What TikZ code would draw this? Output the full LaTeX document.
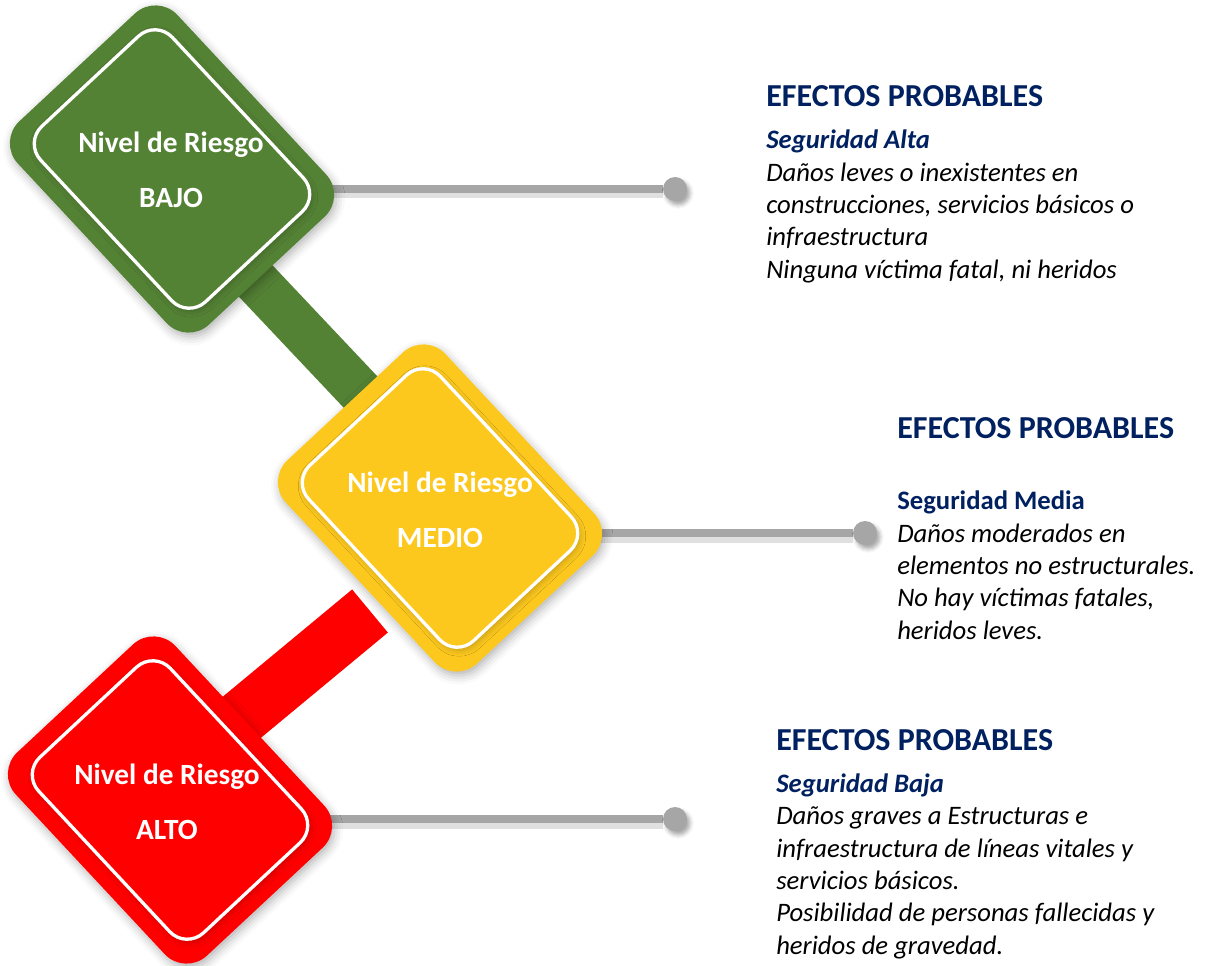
\documentclass[tikz,border=0pt]{standalone}
\usepackage{fontspec}
\setmainfont{Carlito}
\usetikzlibrary{shadows.blur,backgrounds}

\definecolor{verde}{RGB}{84,130,53}
\definecolor{amarillo}{RGB}{252,200,30}
\definecolor{rojo}{RGB}{255,0,0}
\definecolor{azul}{RGB}{0,32,96}
\definecolor{gris}{RGB}{166,166,166}

\newdimen\pxu
\pxu=0.75pt

\tikzset{
  caja/.style={rectangle, rounded corners=30\pxu, minimum width=278\pxu,
    minimum height=218\pxu, rotate=-47, fill=#1, inner sep=0pt,
    blur shadow={shadow xshift=2\pxu, shadow yshift=-4\pxu,
      shadow blur radius=9\pxu, shadow opacity=30}},
  marco/.style={rectangle, rounded corners=24\pxu, minimum width=240\pxu,
    minimum height=180\pxu, rotate=-47, fill=#1, draw=white,
    line width=3.3\pxu, inner sep=0pt,
    blur shadow={shadow xshift=2\pxu, shadow yshift=-3\pxu,
      shadow blur radius=6\pxu, shadow opacity=22}},
  etiqueta/.style={align=center, text=white, inner sep=0pt, anchor=base,
    font=\fontsize{22}{41.25}\selectfont\bfseries},
  barra/.style={draw=#1, line cap=butt},
  conn/.style={draw=gris, line width=8.5\pxu,
    preaction={draw=black, opacity=0.12, line width=11\pxu,
      transform canvas={yshift=-4\pxu}}},
  punto/.style={circle, fill=gris, minimum size=24\pxu, inner sep=0pt,
    blur shadow={shadow xshift=3\pxu, shadow yshift=-4\pxu,
      shadow blur radius=4\pxu, shadow opacity=35}},
  titulo/.style={anchor=base west, inner sep=0pt, text=azul,
    font=\fontsize{24}{28}\selectfont\bfseries},
  texto/.style={anchor=base west, inner sep=0pt, align=left,
    font=\fontsize{20}{24.2}\selectfont\itshape},
}

\begin{document}
\begin{tikzpicture}[x=0.75pt, y=-0.75pt]

  \useasboundingbox (0,0) rectangle (1205,966);

  % the three risk boxes
  \foreach \nm/\cx/\cy/\col/\lvl/\tx in {bajo/172/169/verde/BAJO/171,
      medio/440/508/amarillo/MEDIO/440, alto/170/800/rojo/ALTO/167}
  {
       \node[caja=\col] (\nm) at (\cx,\cy) {};
       \node[marco=\col] (\nm-in) at (\nm.center) {};
       \node[etiqueta] (\nm-txt) at ({\tx},{\cy+39}) {Nivel de Riesgo\\\lvl};
  }

  % end dots
  \node[punto] (d1) at (675,189) {};
  \node[punto] (d2) at (865,533) {};
  \node[punto] (d3) at (675,819) {};

  \coordinate (rfin) at (370,611);

  % bars and connectors behind the boxes
  \begin{pgfonlayer}{background}
    \draw[barra=verde, line width=46\pxu] ([xshift=-22\pxu]bajo.center) -- ([xshift=30\pxu]medio.center);
    \draw[barra=rojo, line width=56\pxu] ([xshift=-28\pxu]alto.center) -- (rfin);
    \draw[conn] (bajo.center |- d1) -- (d1);
    \draw[conn] (medio.center |- d2) -- (d2);
    \draw[conn] (alto.center |- d3) -- (d3);
  \end{pgfonlayer}

  % effects, low risk (body anchored on its last line)
  \node[titulo] (t1) at (766,107) {EFECTOS PROBABLES};
  \node[texto] (b1) at (766,278) {{\bfseries\color{azul}Seguridad Alta}\\
    Daños leves o inexistentes en\\
    construcciones, servicios básicos o\\
    infraestructura\\
    Ninguna víctima fatal, ni heridos};

  % effects, medium risk
  \node[titulo] (t2) at (897,438) {EFECTOS PROBABLES};
  \node[texto] (b2) at (897,639) {{\upshape\bfseries\color{azul}Seguridad Media}\\
    Daños moderados en\\
    elementos no estructurales.\\
    No hay víctimas fatales,\\
    heridos leves.};

  % effects, high risk
  \node[titulo] (t3) at (776,750) {EFECTOS PROBABLES};
  \node[texto] (b3) at (776,954) {{\bfseries\color{azul}Seguridad Baja}\\
    Daños graves a Estructuras e\\
    infraestructura de líneas vitales y\\
    servicios básicos.\\
    Posibilidad de personas fallecidas y\\
    heridos de gravedad.};

\end{tikzpicture}
\end{document}
